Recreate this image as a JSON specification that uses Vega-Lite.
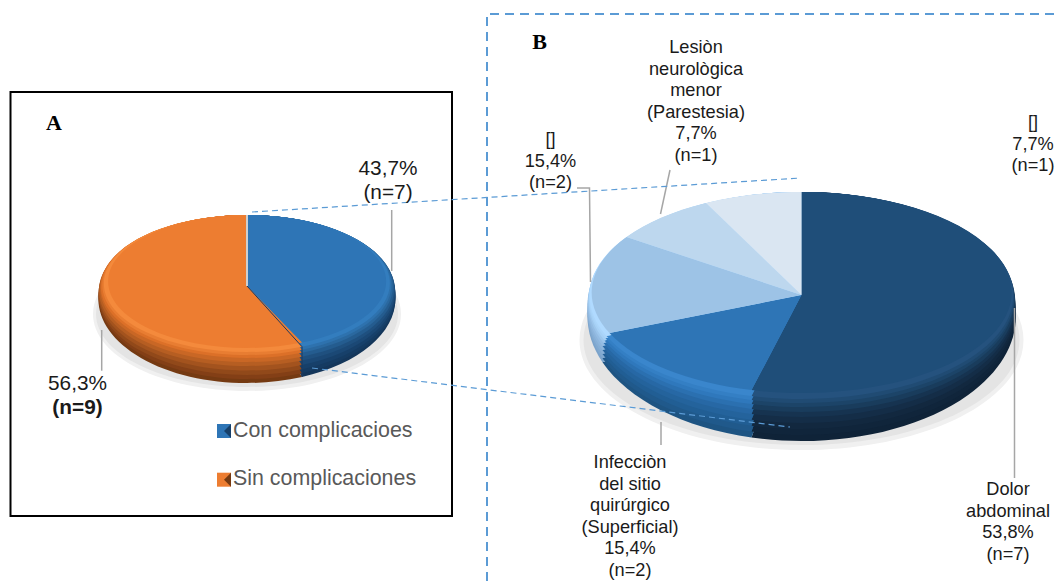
{
"$schema":"https://vega.github.io/schema/vega-lite/v6.json",
"width":1060,"height":581,"padding":0,"autosize":"none","background":"white",
"config":{"view":{"stroke":null},"text":{"font":"Liberation Sans"}},
"datasets":{
"slices":[
{"panel":"A","label":"Con complicacioes","pct":43.7,"n":7,"pctText":"43,7%","nText":"(n=7)"},
{"panel":"A","label":"Sin complicaciones","pct":56.3,"n":9,"pctText":"56,3%","nText":"(n=9)"},
{"panel":"B","label":"Dolor abdominal","pct":53.8,"n":7,"text":"Dolor\nabdominal\n53,8%\n(n=7)"},
{"panel":"B","label":"Infecciòn","pct":15.4,"n":2,"text":"Infecciòn\ndel sitio\nquirúrgico\n(Superficial)\n15,4%\n(n=2)"},
{"panel":"B","label":"[] 15,4%","pct":15.4,"n":2,"text":"[]\n15,4%\n(n=2)"},
{"panel":"B","label":"Lesiòn","pct":7.7,"n":1,"text":"Lesiòn\nneurològica\nmenor\n(Parestesia)\n7,7%\n(n=1)"},
{"panel":"B","label":"[] 7,7%","pct":7.7,"n":1,"text":"[]\n7,7%\n(n=1)"}
],
"panels":[{"panel":"A"},{"panel":"B"}],
"links":[{"panel":"A","edge":"top"},{"panel":"A","edge":"bottom"}]
},
"data":{"name":"slices"},
"encoding":{
"x":{"field":"panel","type":"nominal","axis":null,"scale":{"type":"point","padding":0,"domain":["A","B"],"range":[247,801.5]}},
"y":{"field":"panel","type":"nominal","axis":null,"scale":{"type":"point","padding":0,"domain":["A","B"],"range":[286,295]}}
},
"layer":[
{"data":{"name":"panels"},"mark":{"type":"point","filled":true,"size":4,"opacity":1,"strokeWidth":0,"color":"#F0F0F0"},"encoding":{"shape":{"field":"panel","legend":null,"scale":{"domain":["A","B"],"range":["M-154 28A154 77 0 1 0 154 28A154 77 0 1 0 -154 28Z","M-222 45A222 110 0 1 0 222 45A222 110 0 1 0 -222 45Z"]}}}},
{"data":{"name":"panels"},"mark":{"type":"point","filled":true,"size":4,"opacity":1,"strokeWidth":0,"color":"#E4E4E4"},"encoding":{"shape":{"field":"panel","legend":null,"scale":{"domain":["A","B"],"range":["M-151 28A151 73 0 1 0 151 28A151 73 0 1 0 -151 28Z","M-218 45A218 105 0 1 0 218 45A218 105 0 1 0 -218 45Z"]}}}},

{"transform":[{"filter":"datum.panel=='A'"}],"mark":{"type":"point","filled":true,"size":4,"opacity":1,"strokeWidth":0},"encoding":{"shape":{"field":"label","legend":null,"scale":{"domain":["Con complicacioes","Sin complicaciones"],"range":["M0 -71A148.5 84 0 0 1 55 91L0 0Z","M55 91A148.5 84 0 1 1 0 -71L0 0Z"]}},"color":{"field":"label","legend":null,"scale":{"domain":["Con complicacioes","Sin complicaciones"],"range":["#14365A","#753A12"]}}}},
{"transform":[{"filter":"datum.panel=='A'"}],"mark":{"type":"point","filled":true,"size":4,"opacity":1,"strokeWidth":0},"encoding":{"shape":{"field":"label","legend":null,"scale":{"domain":["Con complicacioes","Sin complicaciones"],"range":["M0 -71A148.5 82 0 0 1 55 87.2L0 0Z","M55 87.2A148.5 82 0 1 1 0 -71L0 0Z"]}},"color":{"field":"label","legend":null,"scale":{"domain":["Con complicacioes","Sin complicaciones"],"range":["#153B62","#833F16"]}}}},
{"transform":[{"filter":"datum.panel=='A'"}],"mark":{"type":"point","filled":true,"size":4,"opacity":1,"strokeWidth":0},"encoding":{"shape":{"field":"label","legend":null,"scale":{"domain":["Con complicacioes","Sin complicaciones"],"range":["M0 -71A148.5 80 0 0 1 55 83.3L0 0Z","M55 83.3A148.5 80 0 1 1 0 -71L0 0Z"]}},"color":{"field":"label","legend":null,"scale":{"domain":["Con complicacioes","Sin complicaciones"],"range":["#17406A","#91491A"]}}}},
{"transform":[{"filter":"datum.panel=='A'"}],"mark":{"type":"point","filled":true,"size":4,"opacity":1,"strokeWidth":0},"encoding":{"shape":{"field":"label","legend":null,"scale":{"domain":["Con complicacioes","Sin complicaciones"],"range":["M0 -71A148.3 77.75 0 0 1 55 78.95L0 0Z","M55 78.95A148.3 77.75 0 1 1 0 -71L0 0Z"]}},"color":{"field":"label","legend":null,"scale":{"domain":["Con complicacioes","Sin complicaciones"],"range":["#1B4875","#A3531E"]}}}},
{"transform":[{"filter":"datum.panel=='A'"}],"mark":{"type":"point","filled":true,"size":4,"opacity":1,"strokeWidth":0},"encoding":{"shape":{"field":"label","legend":null,"scale":{"domain":["Con complicacioes","Sin complicaciones"],"range":["M0 -71A148 75.5 0 0 1 55 74.6L0 0Z","M55 74.6A148 75.5 0 1 1 0 -71L0 0Z"]}},"color":{"field":"label","legend":null,"scale":{"domain":["Con complicacioes","Sin complicaciones"],"range":["#1F507F","#B65E22"]}}}},
{"transform":[{"filter":"datum.panel=='A'"}],"mark":{"type":"point","filled":true,"size":4,"opacity":1,"strokeWidth":0},"encoding":{"shape":{"field":"label","legend":null,"scale":{"domain":["Con complicacioes","Sin complicaciones"],"range":["M0 -71A147 73.5 0 0 1 55 70.7L0 0Z","M55 70.7A147 73.5 0 1 1 0 -71L0 0Z"]}},"color":{"field":"label","legend":null,"scale":{"domain":["Con complicacioes","Sin complicaciones"],"range":["#245C8F","#C96725"]}}}},
{"transform":[{"filter":"datum.panel=='A'"}],"mark":{"type":"point","filled":true,"size":4,"opacity":1,"strokeWidth":0},"encoding":{"shape":{"field":"label","legend":null,"scale":{"domain":["Con complicacioes","Sin complicaciones"],"range":["M0 -71A146 71.5 0 0 1 55 66.7L0 0Z","M55 66.7A146 71.5 0 1 1 0 -71L0 0Z"]}},"color":{"field":"label","legend":null,"scale":{"domain":["Con complicacioes","Sin complicaciones"],"range":["#2A689F","#DC7028"]}}}},
{"transform":[{"filter":"datum.panel=='A'"}],"mark":{"type":"point","filled":true,"size":4,"opacity":1,"strokeWidth":0},"encoding":{"shape":{"field":"label","legend":null,"scale":{"domain":["Con complicacioes","Sin complicaciones"],"range":["M0 -71A144.5 70 0 0 1 55 63.7L0 0Z","M55 63.7A144.5 70 0 1 1 0 -71L0 0Z"]}},"color":{"field":"label","legend":null,"scale":{"domain":["Con complicacioes","Sin complicaciones"],"range":["#2E72AE","#E87D32"]}}}},
{"transform":[{"filter":"datum.panel=='A'"}],"mark":{"type":"point","filled":true,"size":4,"opacity":1,"strokeWidth":0},"encoding":{"shape":{"field":"label","legend":null,"scale":{"domain":["Con complicacioes","Sin complicaciones"],"range":["M0 -71A143 68.5 0 0 1 55 60.7L0 0Z","M55 60.7A143 68.5 0 1 1 0 -71L0 0Z"]}},"color":{"field":"label","legend":null,"scale":{"domain":["Con complicacioes","Sin complicaciones"],"range":["#337DBE","#F48A3C"]}}}},
{"transform":[{"filter":"datum.panel=='A'"}],"mark":{"type":"point","filled":true,"size":4,"opacity":1,"strokeWidth":0},"encoding":{"shape":{"field":"label","legend":null,"scale":{"domain":["Con complicacioes","Sin complicaciones"],"range":["M0 -71A139 66.5 0 0 1 55 56.6L0 0Z","M55 56.6A139 66.5 0 1 1 0 -71L0 0Z"]}},"color":{"field":"label","legend":null,"scale":{"domain":["Con complicacioes","Sin complicaciones"],"range":["#2E75B6","#ED7D31"]}}}},

{"transform":[{"filter":{"field":"label","oneOf":["Dolor abdominal","Infecciòn","[] 15,4%"]}}],"mark":{"type":"point","filled":true,"size":4,"opacity":1,"strokeWidth":0},"encoding":{"shape":{"field":"label","legend":null,"scale":{"domain":["Dolor abdominal","Infecciòn","[] 15,4%"],"range":["M0 -103A214 124.5 0 1 1 -50 142.5L0 0Z","M-50 142.5A214 124.5 0 0 1 -199 67.3L0 0Z","M-199 67.3A214 124.5 0 0 1 0 -103L0 0Z"]}},"color":{"field":"label","legend":null,"scale":{"domain":["Dolor abdominal","Infecciòn","[] 15,4%"],"range":["#0F2338","#1E5482","#7BA3CB"]}}}},
{"transform":[{"filter":{"field":"label","oneOf":["Dolor abdominal","Infecciòn","[] 15,4%"]}}],"mark":{"type":"point","filled":true,"size":4,"opacity":1,"strokeWidth":0},"encoding":{"shape":{"field":"label","legend":null,"scale":{"domain":["Dolor abdominal","Infecciòn","[] 15,4%"],"range":["M0 -103A214 121.5 0 1 1 -50 136.6L0 0Z","M-50 136.6A214 121.5 0 0 1 -199 63.2L0 0Z","M-199 63.2A214 121.5 0 0 1 0 -103L0 0Z"]}},"color":{"field":"label","legend":null,"scale":{"domain":["Dolor abdominal","Infecciòn","[] 15,4%"],"range":["#10253B","#20598B","#81A9D0"]}}}},
{"transform":[{"filter":{"field":"label","oneOf":["Dolor abdominal","Infecciòn","[] 15,4%"]}}],"mark":{"type":"point","filled":true,"size":4,"opacity":1,"strokeWidth":0},"encoding":{"shape":{"field":"label","legend":null,"scale":{"domain":["Dolor abdominal","Infecciòn","[] 15,4%"],"range":["M0 -103A214 118.5 0 1 1 -50 130.7L0 0Z","M-50 130.7A214 118.5 0 0 1 -199 59.1L0 0Z","M-199 59.1A214 118.5 0 0 1 0 -103L0 0Z"]}},"color":{"field":"label","legend":null,"scale":{"domain":["Dolor abdominal","Infecciòn","[] 15,4%"],"range":["#12283F","#215E94","#87AFD6"]}}}},
{"transform":[{"filter":{"field":"label","oneOf":["Dolor abdominal","Infecciòn","[] 15,4%"]}}],"mark":{"type":"point","filled":true,"size":4,"opacity":1,"strokeWidth":0},"encoding":{"shape":{"field":"label","legend":null,"scale":{"domain":["Dolor abdominal","Infecciòn","[] 15,4%"],"range":["M0 -103A214 115.5 0 1 1 -50 124.8L0 0Z","M-50 124.8A214 115.5 0 0 1 -199 55L0 0Z","M-199 55A214 115.5 0 0 1 0 -103L0 0Z"]}},"color":{"field":"label","legend":null,"scale":{"domain":["Dolor abdominal","Infecciòn","[] 15,4%"],"range":["#142D47","#24639C","#8DB5DC"]}}}},
{"transform":[{"filter":{"field":"label","oneOf":["Dolor abdominal","Infecciòn","[] 15,4%"]}}],"mark":{"type":"point","filled":true,"size":4,"opacity":1,"strokeWidth":0},"encoding":{"shape":{"field":"label","legend":null,"scale":{"domain":["Dolor abdominal","Infecciòn","[] 15,4%"],"range":["M0 -103A214 112.5 0 1 1 -50 118.9L0 0Z","M-50 118.9A214 112.5 0 0 1 -199 50.9L0 0Z","M-199 50.9A214 112.5 0 0 1 0 -103L0 0Z"]}},"color":{"field":"label","legend":null,"scale":{"domain":["Dolor abdominal","Infecciòn","[] 15,4%"],"range":["#163350","#2768A5","#94BCE3"]}}}},
{"transform":[{"filter":{"field":"label","oneOf":["Dolor abdominal","Infecciòn","[] 15,4%"]}}],"mark":{"type":"point","filled":true,"size":4,"opacity":1,"strokeWidth":0},"encoding":{"shape":{"field":"label","legend":null,"scale":{"domain":["Dolor abdominal","Infecciòn","[] 15,4%"],"range":["M0 -103A213.5 110 0 1 1 -50 113.9L0 0Z","M-50 113.9A213.5 110 0 0 1 -198 48.1L0 0Z","M-198 48.1A213.5 110 0 0 1 0 -103L0 0Z"]}},"color":{"field":"label","legend":null,"scale":{"domain":["Dolor abdominal","Infecciòn","[] 15,4%"],"range":["#193C5C","#2B70B0","#9DC6EC"]}}}},
{"transform":[{"filter":{"field":"label","oneOf":["Dolor abdominal","Infecciòn","[] 15,4%"]}}],"mark":{"type":"point","filled":true,"size":4,"opacity":1,"strokeWidth":0},"encoding":{"shape":{"field":"label","legend":null,"scale":{"domain":["Dolor abdominal","Infecciòn","[] 15,4%"],"range":["M0 -103A213 107.5 0 1 1 -50 109L0 0Z","M-50 109A213 107.5 0 0 1 -197 45.4L0 0Z","M-197 45.4A213 107.5 0 0 1 0 -103L0 0Z"]}},"color":{"field":"label","legend":null,"scale":{"domain":["Dolor abdominal","Infecciòn","[] 15,4%"],"range":["#1C4468","#2F78BC","#A6D0F5"]}}}},
{"transform":[{"filter":{"field":"label","oneOf":["Dolor abdominal","Infecciòn","[] 15,4%"]}}],"mark":{"type":"point","filled":true,"size":4,"opacity":1,"strokeWidth":0},"encoding":{"shape":{"field":"label","legend":null,"scale":{"domain":["Dolor abdominal","Infecciòn","[] 15,4%"],"range":["M0 -103A212.5 105.5 0 1 1 -50 105L0 0Z","M-50 105A212.5 105.5 0 0 1 -196 43.3L0 0Z","M-196 43.3A212.5 105.5 0 0 1 0 -103L0 0Z"]}},"color":{"field":"label","legend":null,"scale":{"domain":["Dolor abdominal","Infecciòn","[] 15,4%"],"range":["#204B73","#347FC4","#ABD5FA"]}}}},
{"transform":[{"filter":{"field":"label","oneOf":["Dolor abdominal","Infecciòn","[] 15,4%"]}}],"mark":{"type":"point","filled":true,"size":4,"opacity":1,"strokeWidth":0},"encoding":{"shape":{"field":"label","legend":null,"scale":{"domain":["Dolor abdominal","Infecciòn","[] 15,4%"],"range":["M0 -103A212 103.5 0 1 1 -50 101.1L0 0Z","M-50 101.1A212 103.5 0 0 1 -195 41.1L0 0Z","M-195 41.1A212 103.5 0 0 1 0 -103L0 0Z"]}},"color":{"field":"label","legend":null,"scale":{"domain":["Dolor abdominal","Infecciòn","[] 15,4%"],"range":["#25527E","#3A86CC","#B0DAFF"]}}}},
{"transform":[{"filter":"datum.panel=='B'"}],"mark":{"type":"point","filled":true,"size":4,"opacity":1,"strokeWidth":0},"encoding":{"shape":{"field":"label","legend":null,"scale":{"domain":["Dolor abdominal","Infecciòn","[] 15,4%","Lesiòn","[] 7,7%"],"range":["M0 -103A210 100.5 0 1 1 -50 95.1L0 0Z","M-50 95.1A210 100.5 0 0 1 -192 38L0 0Z","M-192 38A210 100.5 0 0 1 -175 -58L0 0Z","M-175 -58A210 100.5 0 0 1 -95.5 -92L0 0Z","M-95.5 -92A210 100.5 0 0 1 0 -103L0 0Z"]}},"color":{"field":"label","legend":null,"scale":{"domain":["Dolor abdominal","Infecciòn","[] 15,4%","Lesiòn","[] 7,7%"],"range":["#1F4E79","#2E75B6","#9DC3E6","#BDD7EE","#DAE6F2"]}}}},

{"mark":{"type":"point","filled":false,"size":4,"opacity":1,"strokeWidth":1.5,"color":"#A6A6A6"},"encoding":{"shape":{"field":"label","legend":null,"scale":{"domain":["Con complicacioes","Sin complicaciones","Dolor abdominal","Infecciòn","[] 15,4%","Lesiòn","[] 7,7%"],"range":["M144.7 -76L144.7 -15","M-145.3 44L-145.3 84.7","M213 13L213 183","M-140.5 127L-140.5 150","M-224.5 -107L-212 -107L-211 -13","M-131.5 -125L-141 -81","M0 0"]}}}},
{"data":{"name":"panels"},"transform":[{"filter":"datum.panel=='A'"}],"mark":{"type":"point","filled":false,"size":4,"opacity":1,"strokeWidth":2,"color":"#CFCFCF"},"encoding":{"shape":{"field":"panel","legend":null,"scale":{"domain":["A"],"range":["M0 -71L0 0"]}}}},
{"transform":[{"filter":"datum.label=='Con complicacioes'"}],"mark":{"type":"point","filled":false,"size":4,"opacity":1,"strokeWidth":1,"color":"#1F3A5F"},"encoding":{"shape":{"field":"label","legend":null,"scale":{"domain":["Con complicacioes"],"range":["M0 0L55 60.7L55 91"]}}}},

{"transform":[{"filter":"datum.panel=='A'"}],"mark":{"type":"point","filled":true,"size":4,"opacity":1,"strokeWidth":0},"encoding":{"shape":{"field":"label","legend":null,"scale":{"domain":["Con complicacioes","Sin complicaciones"],"range":["M-30 138L-16 138L-16 152L-30 152Z","M-30 186.7L-16 186.7L-16 200.7L-30 200.7Z"]}},"color":{"field":"label","legend":null,"scale":{"domain":["Con complicacioes","Sin complicaciones"],"range":["#2E75B6","#ED7D31"]}}}},
{"transform":[{"filter":"datum.panel=='A'"}],"mark":{"type":"point","filled":true,"size":4,"opacity":1,"strokeWidth":0},"encoding":{"shape":{"field":"label","legend":null,"scale":{"domain":["Con complicacioes","Sin complicaciones"],"range":["M-16 138L-16 152L-23 145Z","M-16 186.7L-16 200.7L-23 193.7Z"]}},"color":{"field":"label","legend":null,"scale":{"domain":["Con complicacioes","Sin complicaciones"],"range":["#17406A","#753A12"]}}}},

{"data":{"name":"panels"},"transform":[{"filter":"datum.panel=='A'"}],"mark":{"type":"point","filled":false,"size":4,"opacity":1,"strokeWidth":2,"color":"#000000"},"encoding":{"shape":{"field":"panel","legend":null,"scale":{"domain":["A"],"range":["M-236.5 -194L205 -194L205 230L-236.5 230Z"]}}}},
{"data":{"name":"panels"},"transform":[{"filter":"datum.panel=='B'"}],"mark":{"type":"point","filled":false,"size":4,"opacity":1,"strokeWidth":2,"color":"#5B9BD5","strokeDash":[9,6]},"encoding":{"shape":{"field":"panel","legend":null,"scale":{"domain":["B"],"range":["M-314.5 286L-314.5 -281L258.5 -281"]}}}},
{"data":{"name":"links"},"mark":{"type":"point","filled":false,"size":4,"opacity":1,"strokeWidth":1.2,"color":"#5B9BD5","strokeDash":[6,4]},"encoding":{"shape":{"field":"edge","legend":null,"scale":{"domain":["top","bottom"],"range":["M5 -74L554 -108","M65 82L543 141"]}}}},

{"data":{"name":"panels"},"transform":[{"filter":"datum.panel=='A'"}],"mark":{"type":"text","font":"Liberation Serif","fontWeight":"bold","fontSize":22,"color":"#000","dx":-193,"dy":-163,"align":"center","baseline":"middle"},"encoding":{"text":{"field":"panel"}}},
{"data":{"name":"panels"},"transform":[{"filter":"datum.panel=='B'"}],"mark":{"type":"text","font":"Liberation Serif","fontWeight":"bold","fontSize":22,"color":"#000","dx":-262,"dy":-253,"align":"center","baseline":"middle"},"encoding":{"text":{"field":"panel"}}},

{"transform":[{"filter":"datum.label=='Con complicacioes'"}],"mark":{"type":"text","fontSize":20.8,"color":"#1a1a1a","dx":141,"dy":-117,"align":"center","baseline":"middle"},"encoding":{"text":{"field":"pctText"}}},
{"transform":[{"filter":"datum.label=='Con complicacioes'"}],"mark":{"type":"text","fontSize":20.8,"color":"#1a1a1a","dx":141,"dy":-93,"align":"center","baseline":"middle"},"encoding":{"text":{"field":"nText"}}},
{"transform":[{"filter":"datum.label=='Sin complicaciones'"}],"mark":{"type":"text","fontSize":20.8,"color":"#1a1a1a","dx":-169.5,"dy":98,"align":"center","baseline":"middle"},"encoding":{"text":{"field":"pctText"}}},
{"transform":[{"filter":"datum.label=='Sin complicaciones'"}],"mark":{"type":"text","fontSize":20.8,"fontWeight":"bold","color":"#1a1a1a","dx":-169.5,"dy":122,"align":"center","baseline":"middle"},"encoding":{"text":{"field":"nText"}}},

{"transform":[{"filter":"datum.label=='Con complicacioes'"}],"mark":{"type":"text","fontSize":21.4,"color":"#595959","dx":-14,"dy":145,"align":"left","baseline":"middle"},"encoding":{"text":{"field":"label"}}},
{"transform":[{"filter":"datum.label=='Sin complicaciones'"}],"mark":{"type":"text","fontSize":21.4,"color":"#595959","dx":-14,"dy":193,"align":"left","baseline":"middle"},"encoding":{"text":{"field":"label"}}},

{"transform":[{"filter":"datum.label=='Lesiòn'"}],"mark":{"type":"text","fontSize":18.2,"lineHeight":21.6,"lineBreak":"\n","color":"#1a1a1a","dx":-105.5,"dy":-247,"align":"center","baseline":"middle"},"encoding":{"text":{"field":"text"}}},
{"transform":[{"filter":"datum.label=='[] 15,4%'"}],"mark":{"type":"text","fontSize":18.2,"lineHeight":21.6,"lineBreak":"\n","color":"#1a1a1a","dx":-251,"dy":-155,"align":"center","baseline":"middle"},"encoding":{"text":{"field":"text"}}},
{"transform":[{"filter":"datum.label=='[] 7,7%'"}],"mark":{"type":"text","fontSize":18.2,"lineHeight":21.6,"lineBreak":"\n","color":"#1a1a1a","dx":231.5,"dy":-172,"align":"center","baseline":"middle"},"encoding":{"text":{"field":"text"}}},
{"transform":[{"filter":"datum.label=='Infecciòn'"}],"mark":{"type":"text","fontSize":18.2,"lineHeight":21.6,"lineBreak":"\n","color":"#1a1a1a","dx":-171.5,"dy":168,"align":"center","baseline":"middle"},"encoding":{"text":{"field":"text"}}},
{"transform":[{"filter":"datum.label=='Dolor abdominal'"}],"mark":{"type":"text","fontSize":18.2,"lineHeight":21.6,"lineBreak":"\n","color":"#1a1a1a","dx":206.5,"dy":195,"align":"center","baseline":"middle"},"encoding":{"text":{"field":"text"}}}
],
"resolve":{"scale":{"color":"independent","shape":"independent"}}
}
